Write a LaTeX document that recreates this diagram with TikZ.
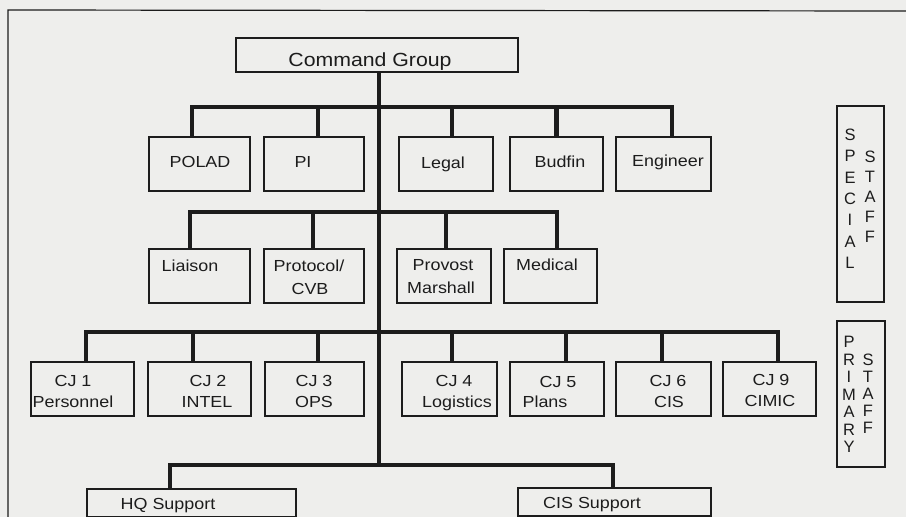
\documentclass[tikz,border=0pt]{standalone}
\usepackage{fontspec}
\setmainfont{Liberation Sans}[FakeStretch=1.12]
\newfontfamily\plainsans{Liberation Sans}
\definecolor{bg}{RGB}{238,238,236}
\definecolor{ink}{RGB}{28,28,28}
\tikzset{
  box/.style={draw=ink, line width=1.1pt, inner sep=0pt},
  conn/.style={draw=ink, line width=4.6pt, line join=miter},
  lbl/.style={text=ink, inner sep=0pt, anchor=base, font=\fontsize{16}{19}\selectfont},
  bigl/.style={lbl, font=\fontsize{19}{22}\selectfont},
  stf/.style={text=ink, inner sep=0pt, anchor=center, font=\plainsans\fontsize{16.5}{18}\selectfont},
  frame/.style={draw=ink, line width=1.2pt}
}
\begin{document}
\begin{tikzpicture}[x=1pt,y=-1pt]
\fill[bg] (0,0) rectangle (906,517);
\useasboundingbox (0,0) rectangle (906,517);
% outer frame
\coordinate (fbl) at (8,517);
\coordinate (ftl) at (8,10);
\coordinate (ftr) at (906,11);
\draw[frame] (fbl) -- (ftl) -- (ftr);

% boxes
\node[box, minimum width=282, minimum height=34] (cmd) at (377,55) {};
\node[box, minimum width=101, minimum height=54] (polad) at (199.5,164) {};
\node[box, minimum width=100, minimum height=54] (pi) at (314,164) {};
\node[box, minimum width=94, minimum height=54] (legal) at (446,164) {};
\node[box, minimum width=93, minimum height=54] (budfin) at (556.5,164) {};
\node[box, minimum width=95, minimum height=54] (engineer) at (663.5,164) {};

\node[box, minimum width=101, minimum height=54] (liaison) at (199.5,276) {};
\node[box, minimum width=100, minimum height=54] (protocol) at (314,276) {};
\node[box, minimum width=94, minimum height=54] (provost) at (444,276) {};
\node[box, minimum width=93, minimum height=54] (medical) at (550.5,276) {};

\node[box, minimum width=103, minimum height=54] (cj1) at (82.5,389) {};
\node[box, minimum width=103, minimum height=54] (cj2) at (199.5,389) {};
\node[box, minimum width=99, minimum height=54] (cj3) at (314.5,389) {};
\node[box, minimum width=95, minimum height=54] (cj4) at (449.5,389) {};
\node[box, minimum width=94, minimum height=54] (cj5) at (557,389) {};
\node[box, minimum width=95, minimum height=54] (cj6) at (663.5,389) {};
\node[box, minimum width=93, minimum height=54] (cj9) at (769.5,389) {};

\node[box, minimum width=209, minimum height=28] (hq) at (191.5,503) {};
\node[box, minimum width=193, minimum height=28] (cis) at (614.5,502) {};

\node[box, minimum width=47, minimum height=196] (special) at (860.5,204) {};
\node[box, minimum width=48, minimum height=146] (primary) at (861,394) {};

% labels
\node[bigl] (cmdT) at (370,66) {Command Group};
\node[lbl] (poladT) at (200,167) {POLAD};
\node[lbl] (piT) at (303,167) {PI};
\node[lbl] (legalT) at (443,168) {Legal};
\node[lbl] (budfinT) at (560,167) {Budfin};
\node[lbl] (engineerT) at (668,166) {Engineer};

\node[lbl] (liaisonT) at (190,271) {Liaison};
\node[lbl] (protocolT) at (309,271) {Protocol/};
\node[lbl] (protocolT2) at (310,294) {CVB};
\node[lbl] (provostT) at (443,270) {Provost};
\node[lbl] (provostT2) at (441,293) {Marshall};
\node[lbl] (medicalT) at (547,270) {Medical};

\node[lbl] (cj1T) at (73,386) {CJ 1};
\node[lbl] (cj1T2) at (73,407) {Personnel};
\node[lbl] (cj2T) at (208,386) {CJ 2};
\node[lbl] (cj2T2) at (207,407) {INTEL};
\node[lbl] (cj3T) at (314,386) {CJ 3};
\node[lbl] (cj3T2) at (314,407) {OPS};
\node[lbl] (cj4T) at (454,386) {CJ 4};
\node[lbl] (cj4T2) at (457,407) {Logistics};
\node[lbl] (cj5T) at (558,387) {CJ 5};
\node[lbl] (cj5T2) at (545,407) {Plans};
\node[lbl] (cj6T) at (668,386) {CJ 6};
\node[lbl] (cj6T2) at (669,407) {CIS};
\node[lbl] (cj9T) at (771,385) {CJ 9};
\node[lbl] (cj9T2) at (770,406) {CIMIC};

\node[lbl] (hqT) at (168,509) {HQ Support};
\node[lbl] (cisT) at (592,508) {CIS Support};

% staff letters
\foreach \c [count=\i] in {S,P,E,C,I,A,L}
  \node[stf] (spA\i) at (850,{135+21.3*(\i-1)}) {\c};
\foreach \c [count=\i] in {S,T,A,F,F}
  \node[stf] (spB\i) at (870,{157+20*(\i-1)}) {\c};
\foreach \c [count=\i] in {P,R,I,M,A,R,Y}
  \node[stf] (prA\i) at (849,{342+17.5*(\i-1)}) {\c};
\foreach \c [count=\i] in {S,T,A,F,F}
  \node[stf] (prB\i) at (868,{360+17*(\i-1)}) {\c};

% connectors
\coordinate (b1) at (379,107);
\coordinate (b2) at (379,212);
\coordinate (b3) at (379,332);
\coordinate (b4) at (379,465);
\draw[conn] (cmd.south -| b1) -- (b4);

\draw[conn] ([xshift=-7.5pt]polad.north) |- (b1) -| ([xshift=8.5pt]engineer.north);
\draw[conn] ([xshift=4pt]pi.north) -- ([xshift=4pt]pi.north |- b1);
\draw[conn] ([xshift=6pt]legal.north) -- ([xshift=6pt]legal.north |- b1);
\draw[conn] (budfin.north) -- (budfin.north |- b1);

\draw[conn] ([xshift=-9.5pt]liaison.north) |- (b2) -| ([xshift=6.5pt]medical.north);
\draw[conn] ([xshift=-1pt]protocol.north) -- ([xshift=-1pt]protocol.north |- b2);
\draw[conn] ([xshift=2pt]provost.north) -- ([xshift=2pt]provost.north |- b2);

\draw[conn] ([xshift=3.5pt]cj1.north) |- (b3) -| ([xshift=8.5pt]cj9.north);
\draw[conn] ([xshift=-6.5pt]cj2.north) -- ([xshift=-6.5pt]cj2.north |- b3);
\draw[conn] ([xshift=3.5pt]cj3.north) -- ([xshift=3.5pt]cj3.north |- b3);
\draw[conn] ([xshift=2.5pt]cj4.north) -- ([xshift=2.5pt]cj4.north |- b3);
\draw[conn] ([xshift=9pt]cj5.north) -- ([xshift=9pt]cj5.north |- b3);
\draw[conn] ([xshift=-1.5pt]cj6.north) -- ([xshift=-1.5pt]cj6.north |- b3);

\draw[conn] ([xshift=-21.5pt]hq.north) |- (b4) -| ([xshift=-1.5pt]cis.north);
\end{tikzpicture}
\end{document}
